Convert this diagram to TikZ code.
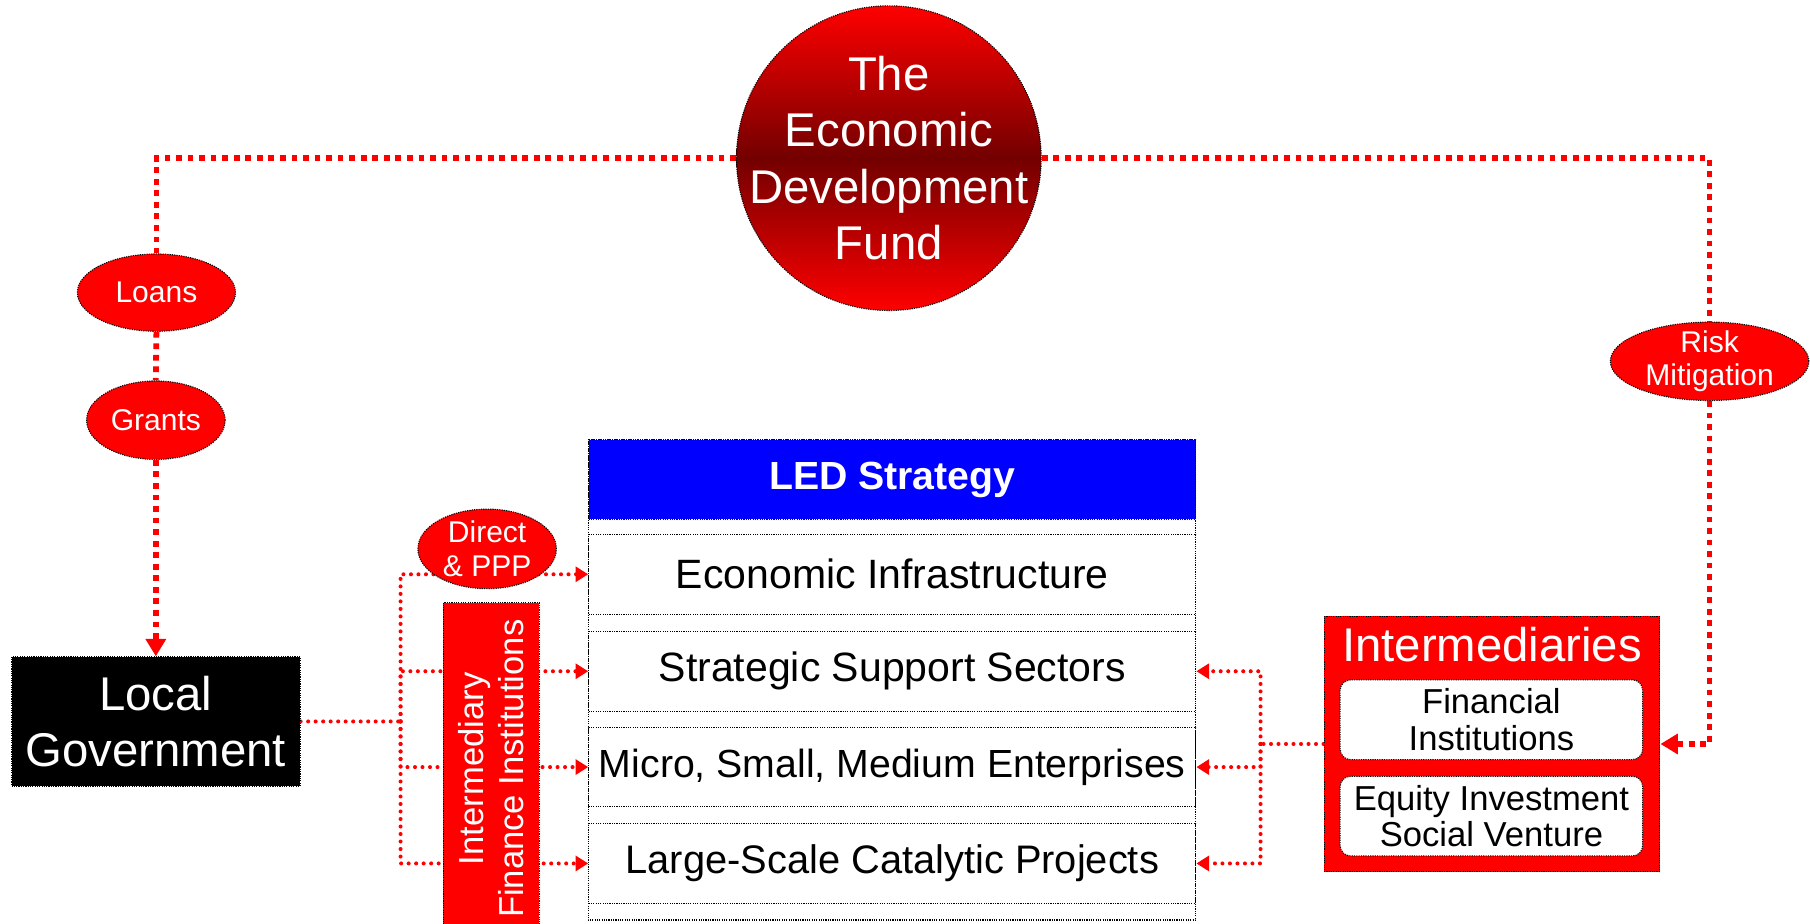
\documentclass[tikz,border=0pt]{standalone}
\usepackage{fontspec}
\setmainfont{Liberation Sans}
\usetikzlibrary{shapes.geometric,arrows.meta,backgrounds}

\newcommand{\fsz}[2]{\fontsize{#1}{#2}\selectfont}

\begin{document}
\begin{tikzpicture}[x=1pt,y=-1pt,
  outline/.style={draw=black,line width=0.9pt,dash pattern=on 1pt off 1pt},
  oval/.style={ellipse,outline,fill=red,inner sep=0pt},
  ovaltext/.style={text=white,align=center,inner sep=0pt,font=\fsz{26}{29}},
  row/.style={rectangle,outline,fill=white,minimum width=526pt,minimum height=69pt,inner sep=0pt,font=\fsz{35.5}{40}},
  inbox/.style={rectangle,rounded corners=9pt,outline,fill=white,minimum width=262pt,minimum height=69pt,inner sep=0pt,align=center,font=\fsz{30}{32}},
  fundline/.style={red,line width=5pt,dash pattern=on 5pt off 5pt},
  feed/.style={red,line width=3.5pt,line cap=round,dash pattern=on 0pt off 6.5pt},
  bigtip/.style={-{Triangle[length=15pt,width=17pt]}},
  tip/.style={-{Triangle[length=11pt,width=13pt]}}]
\useasboundingbox (0,0) rectangle (1568,800);

% the fund
\node[circle,outline,minimum size=264pt,inner sep=0pt,top color=red,bottom color=red,middle color=red!45!black] (fund) at (770,137) {};
\node[text=white,align=center,font=\fsz{41}{49}] (fundtext) at (fund) {The\\Economic\\Development\\Fund};

% left side
\node[oval,minimum width=137pt,minimum height=67pt] (loans) at (135.5,253.5) {};
\node[ovaltext] (loanstext) at (loans) {Loans};
\node[oval,minimum width=120pt,minimum height=68pt] (grants) at (135,364) {};
\node[ovaltext] (grantstext) at (grants) {Grants};
\node[rectangle,outline,fill=black,text=white,align=center,font=\fsz{41}{48},minimum width=250pt,minimum height=112pt,inner sep=0pt] (localgov) at (135,625) {Local\\Government};
\node[oval,minimum width=120pt,minimum height=69pt] (direct) at (422,475.5) {};
\node[ovaltext] (directtext) at (direct) {Direct\\\& PPP};
\node[rectangle,outline,fill=red,text=white,align=center,font=\fsz{30}{34},minimum width=288pt,minimum height=83pt,inner sep=0pt,rotate=90] (ifi) at (425.5,666) {Intermediary\\Finance Institutions};

% LED strategy
\node[rectangle,outline,fill=blue,text=white,font=\bfseries\fsz{34}{40},minimum width=526pt,minimum height=69pt,inner sep=0pt] (led) at (773,415.5) {LED Strategy};
\node[row] (infra) at (773,497.5) {Economic Infrastructure};
\node[row] (support) at (773,581.5) {Strategic Support Sectors};
\node[row,font=\fsz{34}{40}] (msme) at (773,664.5) {Micro, Small, Medium Enterprises};
\node[row,font=\fsz{34.5}{40}] (large) at (773,748) {Large-Scale Catalytic Projects};
\draw[outline] (led.north west) rectangle (1036,797);

% right side
\node[oval,minimum width=172pt,minimum height=68pt] (risk) at (1481,313) {};
\node[ovaltext] (risktext) at (risk) {Risk\\Mitigation};
\node[rectangle,outline,fill=red,minimum width=291pt,minimum height=221pt] (inter) at (1292.5,644.5) {};
\node[text=white,font=\fsz{41}{48}] (intertitle) at (1292.5,558) {Intermediaries};
\node[inbox] (fin) at (1292,623.5) {Financial\\Institutions};
\node[inbox] (equity) at (1292,707) {Equity Investment\\Social Venture};

\begin{scope}[on background layer]
\draw[fundline] (fund.west) -| (loans.north);
\draw[fundline] (loans.south) -- (grants.north);
\draw[fundline,bigtip] (grants.south) -- (localgov.north);
\draw[fundline] (fund.east) -| (risk.north);
\draw[fundline,bigtip] (risk.south) |- (inter.east);
\coordinate (lbus) at (347,625);
\draw[feed] (localgov.east) -- (lbus);
\foreach \r in {infra,support,msme,large} \draw[feed,tip] (lbus) |- (\r.west);
\coordinate (rbus) at (1092,644.5);
\draw[feed] (inter.west) -- (rbus);
\foreach \r in {support,msme,large} \draw[feed,tip] (rbus) |- (\r.east);
\end{scope}

\end{tikzpicture}
\end{document}
